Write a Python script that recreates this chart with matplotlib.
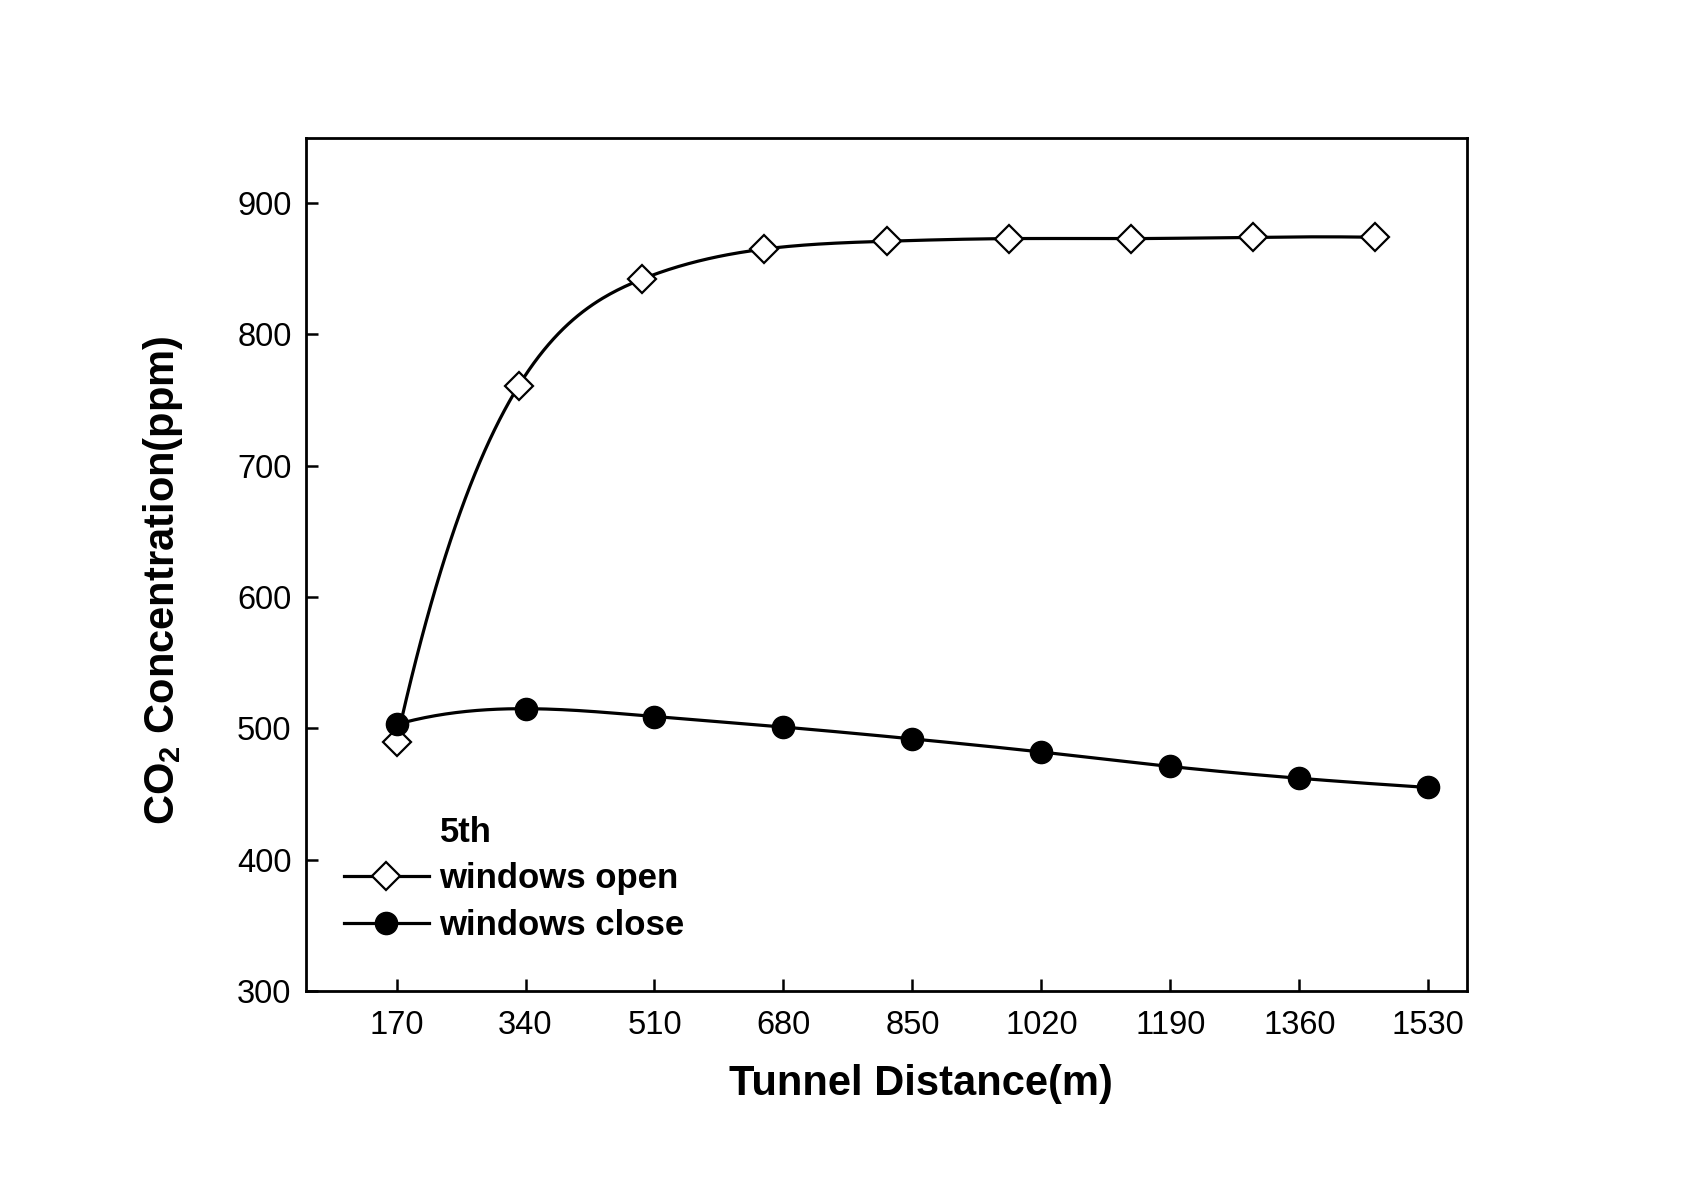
import numpy as np
import matplotlib
matplotlib.use("Agg")
import matplotlib.pyplot as plt

plt.rcParams['font.family'] = ['Liberation Sans', 'DejaVu Sans']
plt.rcParams['mathtext.default'] = 'regular'

# data
dist_close = [170, 340, 510, 680, 850, 1020, 1190, 1360, 1530]
co2_close = [503, 515, 509, 501, 492, 482, 471, 462, 455]

dist_open = [170, 331, 493, 654, 816, 977, 1138, 1299, 1460]
co2_open = [490, 761, 842, 865, 871, 873, 873, 874, 874]

xticks = [170, 340, 510, 680, 850, 1020, 1190, 1360, 1530]
yticks = [300, 400, 500, 600, 700, 800, 900]


def spline(x, y, n=400):
    # cubic spline (not-a-knot ends) through the points, only for drawing
    x = np.asarray(x, float)
    y = np.asarray(y, float)
    k = len(x)
    h = np.diff(x)
    A = np.zeros((k, k))
    b = np.zeros(k)
    A[0, 0], A[0, 1], A[0, 2] = h[1], -(h[0] + h[1]), h[0]
    A[-1, -3], A[-1, -2], A[-1, -1] = h[-1], -(h[-2] + h[-1]), h[-2]
    for i in range(1, k - 1):
        A[i, i - 1] = h[i - 1]
        A[i, i] = 2 * (h[i - 1] + h[i])
        A[i, i + 1] = h[i]
        b[i] = 6 * ((y[i + 1] - y[i]) / h[i] - (y[i] - y[i - 1]) / h[i - 1])
    M = np.linalg.solve(A, b)
    xs = np.linspace(x[0], x[-1], n)
    idx = np.clip(np.searchsorted(x, xs) - 1, 0, k - 2)
    x0, x1 = x[idx], x[idx + 1]
    hh = x1 - x0
    t0, t1 = x1 - xs, xs - x0
    ys = (M[idx] * t0**3 + M[idx + 1] * t1**3) / (6 * hh) \
        + (y[idx] / hh - M[idx] * hh / 6) * t0 \
        + (y[idx + 1] / hh - M[idx + 1] * hh / 6) * t1
    return xs, ys


W, H = 1701, 1186
fig = plt.figure(figsize=(W / 100, H / 100), dpi=100)
ax = fig.add_axes([305.5 / W, 1 - 991 / H, (1466.7 - 305.5) / W, (991 - 137.5) / H])

xs, ys = spline(dist_open, co2_open)
ax.plot(xs, ys, color='black', lw=2.3, zorder=2)
ax.plot(dist_open, co2_open, ls='none', marker='D', ms=14, mfc='white',
        mec='black', mew=1.6, zorder=3)

xs, ys = spline(dist_close, co2_close)
ax.plot(xs, ys, color='black', lw=2.3, zorder=4)
ax.plot(dist_close, co2_close, ls='none', marker='o', ms=16, mfc='black',
        mec='black', zorder=5)

# legend proxies
h_open, = ax.plot([], [], color='black', lw=2.3, marker='D', ms=14,
                  mfc='white', mec='black', mew=1.6)
h_close, = ax.plot([], [], color='black', lw=2.3, marker='o', ms=16,
                   mfc='black', mec='black')
leg = ax.legend([h_open, h_close], ['windows open', 'windows close'],
                loc='center left', bbox_to_anchor=(343.9 / W, 1 - 902 / H),
                bbox_transform=fig.transFigure, frameon=False,
                prop={'weight': 'bold', 'size': 25}, handlelength=2.45,
                handletextpad=0.3, borderpad=0, borderaxespad=0,
                labelspacing=0.4, numpoints=1)
fig.text(439.5 / W, 1 - 841.7 / H, '5th', fontsize=25, fontweight='bold',
         va='baseline', ha='left')

ax.set_xlim(50, 1580.6)
ax.set_ylim(300, 950)
ax.set_xticks(xticks)
ax.set_yticks(yticks)
ax.tick_params(direction='in', length=8.4, width=1.8, labelsize=23.5)
ax.tick_params(axis='x', pad=14)
ax.tick_params(axis='y', pad=10)
for s in ax.spines.values():
    s.set_linewidth(2)

fig.text(920.5 / W, 1 - 1095 / H, 'Tunnel Distance(m)', fontsize=30,
         fontweight='bold', ha='center', va='baseline')
fig.text(173.8 / W, 1 - 580 / H, 'CO$_2$ Concentration(ppm)', fontsize=30,
         fontweight='bold', ha='center', va='baseline', rotation=90,
         rotation_mode='anchor')

fig.savefig('out.png', dpi=100, facecolor='white')
